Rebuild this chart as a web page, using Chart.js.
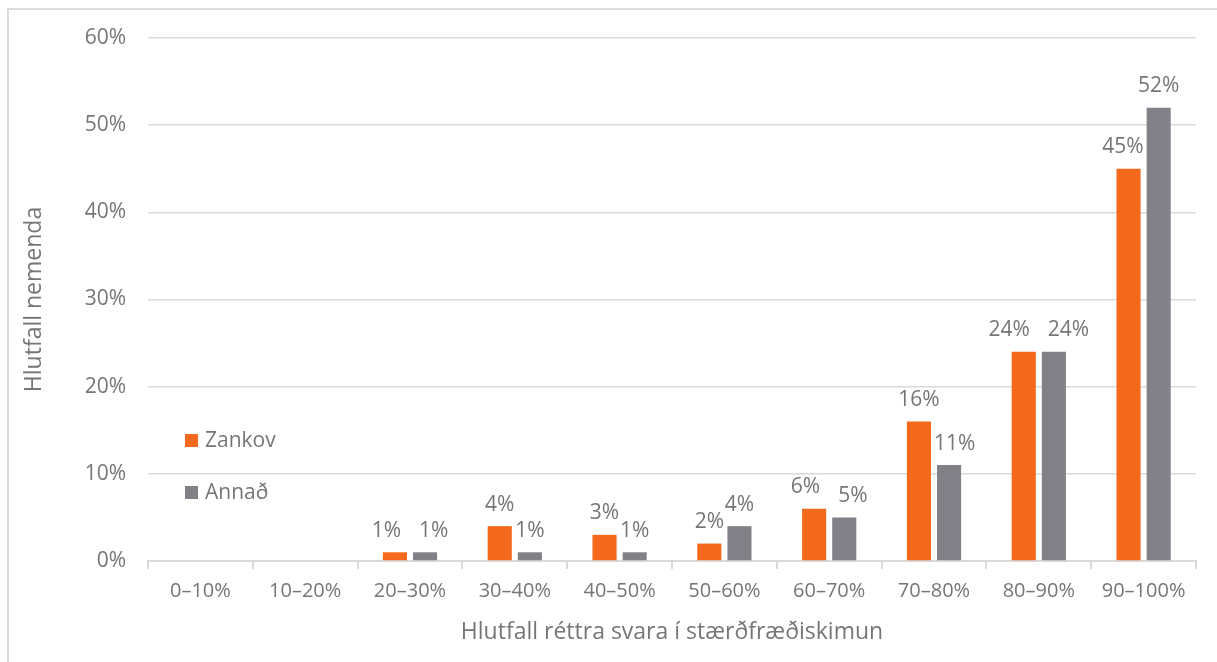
<!DOCTYPE html>
<html>
<head>
<meta charset="utf-8">
<script src="https://cdn.jsdelivr.net/npm/chart.js@4"></script>
<style>
  body { margin: 0; overflow: hidden; background: #fff; }
  #wrap { position: relative; width: 1217px; height: 662px; }
  #frame { position: absolute; left: 7px; top: 8px; width: 1300px; height: 800px;
           border: 2px solid #dcdcdc; pointer-events: none; }
</style>
</head>
<body>
<div id="wrap">
  <canvas id="chart"></canvas>
  <div id="frame"></div>
</div>
<script>
const categories = ["0–10%", "10–20%", "20–30%", "30–40%", "40–50%", "50–60%", "60–70%", "70–80%", "80–90%", "90–100%"];
const zankov = [0, 0, 1, 4, 3, 2, 6, 16, 24, 45];
const annad = [0, 0, 1, 1, 1, 4, 5, 11, 24, 52];
const yTicks = [0, 10, 20, 30, 40, 50, 60];

const textColor = "#767676";
const fontFamily = "'Open Sans', sans-serif";

// value labels above each bar (zeros left out), nudged apart when they collide
const barLabels = {
    id: "barLabels",
    afterDatasetsDraw(chart) {
        const ctx = chart.ctx;
        ctx.save();
        ctx.font = "21px " + fontFamily;
        ctx.fillStyle = textColor;
        ctx.textAlign = "center";
        ctx.textBaseline = "bottom";
        const metas = [chart.getDatasetMeta(0).data, chart.getDatasetMeta(1).data];
        categories.forEach((c, j) => {
            const items = [];
            metas.forEach((bars, i) => {
                const v = chart.data.datasets[i].data[j];
                if (v > 0) {
                    const t = v + "%";
                    items.push({ i, t, x: bars[j].x, y: bars[j].y - 11, w: ctx.measureText(t).width });
                }
            });
            if (items.length === 2 && Math.abs(items[0].y - items[1].y) < 12) {
                const overlap = (items[0].w + items[1].w) / 2 + 18 - (items[1].x - items[0].x);
                if (overlap > 0) {
                    items[0].x -= overlap / 2;
                    items[1].x += overlap / 2;
                }
            } else {
                // keep a label off the taller neighbour bar
                items.forEach(it => {
                    const other = metas[1 - it.i][j];
                    if (other.y < it.y) {
                        const half = other.width / 2;
                        if (it.i === 0) {
                            const o = it.x + it.w / 2 + 3 - (other.x - half);
                            if (o > 0) it.x -= o;
                        } else {
                            const o = (other.x + half) + 3 - (it.x - it.w / 2);
                            if (o > 0) it.x += o;
                        }
                    }
                });
            }
            items.forEach(it => ctx.fillText(it.t, it.x, it.y));
        });
        ctx.restore();
    }
};

// legend drawn inside the plot, left side
const innerLegend = {
    id: "innerLegend",
    afterDraw(chart) {
        const ctx = chart.ctx;
        const x = chart.chartArea.left + 37;
        const rows = [440, 492];
        ctx.save();
        ctx.font = "21px " + fontFamily;
        ctx.textBaseline = "middle";
        chart.data.datasets.forEach((ds, i) => {
            ctx.fillStyle = ds.backgroundColor;
            ctx.fillRect(x, rows[i] - 6, 13, 13);
            ctx.fillStyle = textColor;
            ctx.fillText(ds.label, x + 20, rows[i] + 1);
        });
        ctx.restore();
    }
};

new Chart(document.getElementById("chart"), {
    type: "bar",
    data: {
        labels: categories,
        datasets: [
            { label: "Zankov", data: zankov, backgroundColor: "#F4691B" },
            { label: "Annað", data: annad, backgroundColor: "#838188" }
        ]
    },
    options: {
        responsive: true,
        maintainAspectRatio: false,
        animation: false,
        datasets: { bar: { categoryPercentage: 0.575, barPercentage: 0.8 } },
        layout: { padding: { left: 17, top: 38, right: 21, bottom: 12 } },
        plugins: { legend: { display: false }, tooltip: { enabled: false } },
        scales: {
            x: {
                grid: { display: true, drawOnChartArea: false, drawTicks: true, tickLength: 8, color: "#d9d9d9", lineWidth: 2 },
                border: { display: true, color: "#d9d9d9", width: 2 },
                ticks: { color: textColor, font: { family: fontFamily, size: 20 }, padding: 10, maxRotation: 0 },
                title: { display: true, text: "Hlutfall réttra svara í stærðfræðiskimun", color: textColor,
                         font: { family: fontFamily, size: 23 }, padding: { top: 4, bottom: 4 } },
                afterFit(scale) { scale.height = 89; }
            },
            y: {
                min: 0,
                max: 60,
                afterBuildTicks(scale) { scale.ticks = yTicks.map(v => ({ value: v })); },
                grid: { color: "#d9d9d9", lineWidth: 1.5, drawTicks: false },
                border: { display: false },
                ticks: { color: textColor, font: { family: fontFamily, size: 21 }, padding: 22,
                         callback: v => v + "%" },
                title: { display: true, text: "Hlutfall nemenda", color: textColor,
                         font: { family: fontFamily, size: 23 }, padding: { top: 4, bottom: 4 } },
                afterFit(scale) { scale.width = 131; }
            }
        }
    },
    plugins: [barLabels, innerLegend]
});
</script>
</body>
</html>
